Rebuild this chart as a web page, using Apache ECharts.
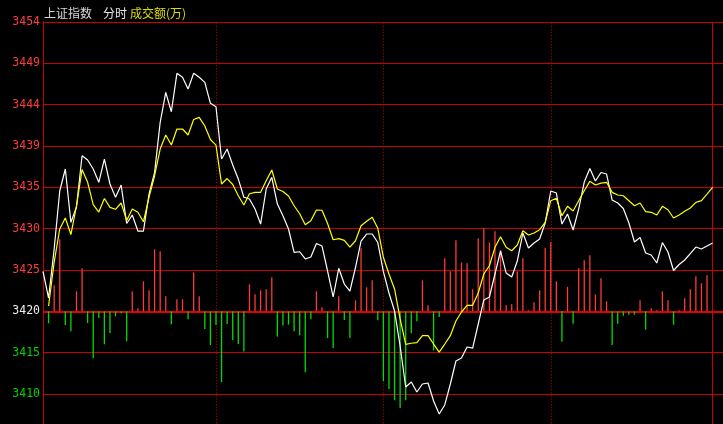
<!DOCTYPE html>
<html><head><meta charset="utf-8">
<script src="https://cdn.jsdelivr.net/npm/echarts@6/dist/echarts.min.js"></script>
<style>html,body{margin:0;padding:0;background:#000;overflow:hidden;}#c{width:723px;height:460px;}</style>
</head><body><div id="c"></div>
<script>
// minute index 0..120
const priceLine = [3424.69,3421.56,3427.31,3434.12,3436.70,3430.44,3432.24,3438.26,3437.75,3436.70,
3435.14,3437.87,3434.94,3433.38,3434.82,3430.30,3431.30,3429.42,3429.42,3433.76,
3436.31,3442.18,3445.70,3443.42,3447.93,3447.46,3446.08,3447.93,3447.46,3446.87,
3444.41,3444.01,3437.87,3439.04,3437.17,3435.52,3433.38,3433.18,3432.00,3430.24,
3434.35,3435.72,3432.59,3431.22,3429.66,3426.92,3426.99,3426.14,3426.37,3427.96,
3427.66,3424.73,3421.68,3425.05,3423.20,3422.38,3425.14,3428.25,3429.07,3429.07,
3428.07,3424.65,3422.15,3420.04,3415.93,3411.12,3411.70,3410.53,3411.47,3411.59,
3409.47,3407.95,3409.01,3411.47,3414.17,3414.52,3415.81,3415.69,3418.51,3421.33,
3421.68,3424.38,3427.08,3424.49,3424.02,3425.90,3429.19,3427.43,3428.01,3428.48,
3430.36,3434.12,3433.88,3430.24,3431.42,3429.54,3432.00,3435.17,3436.76,3435.29,
3436.29,3436.11,3433.06,3432.71,3432.06,3430.36,3428.13,3428.66,3426.84,3426.61,
3425.67,3428.07,3426.96,3424.79,3425.49,3426.02,3426.78,3427.54,3427.31,3427.66,
3428.01];

const avgLine = [null,3420.62,3425.78,3429.66,3430.95,3429.01,3432.36,3436.64,3435.14,3432.53,
3431.65,3433.24,3432.20,3431.97,3432.71,3430.65,3432.00,3431.62,3430.51,3433.38,
3435.91,3439.04,3440.69,3439.51,3441.39,3441.39,3440.69,3442.51,3442.76,3441.74,
3440.16,3439.51,3434.94,3435.58,3434.88,3433.56,3432.47,3433.80,3433.96,3433.96,
3435.32,3436.58,3434.35,3434.06,3433.53,3432.39,3431.45,3430.15,3430.63,3431.89,
3431.86,3430.30,3428.40,3428.53,3428.33,3427.54,3428.28,3430.04,3430.56,3431.03,
3429.74,3426.34,3424.38,3422.62,3419.10,3416.13,3416.25,3416.33,3417.14,3417.14,
3416.16,3415.22,3416.16,3417.14,3418.86,3419.92,3420.70,3420.70,3422.15,3424.38,
3425.35,3427.51,3428.75,3427.51,3427.11,3427.78,3429.46,3428.95,3429.19,3429.58,
3430.44,3432.98,3433.26,3431.22,3432.32,3431.77,3432.98,3434.15,3435.25,3434.82,
3435.05,3435.14,3433.96,3433.65,3433.56,3432.98,3432.39,3432.71,3431.69,3431.62,
3431.30,3432.32,3431.92,3430.95,3431.30,3431.73,3432.12,3432.79,3432.98,3433.76,
3434.55];

const volumeBars = [0,-1408,3050,8446,-1607,-2346,2346,5044,-1372,-5513,
-786,-3871,-2545,-587,-235,-3519,2346,352,3519,2463,
7273,7038,1760,-1525,1408,1408,-938,4540,1760,-2076,
-3953,-1607,-8293,-1490,-3367,-3836,-4727,3167,1994,2463,
2581,3988,-2968,-1677,-1560,-2346,-2815,-7155,-938,2346,
469,-3132,-4305,1760,-1021,-3132,1290,7390,2815,3636,
-1056,-8211,-9114,-10440,-11343,-10440,-2581,-1173,3636,704,
-4575,-669,6217,4692,8328,5748,5630,2581,8563,9736,
8094,9384,7155,704,821,4692,6217,117,1056,2463,
7449,8094,3519,-3566,2874,-1455,5044,5982,6569,1994,
3871,1173,-3953,-1455,-516,-399,-399,1290,-2158,352,
117,2346,1290,-1572,117,1525,2581,4106,3284,4223,
0];

const yTickLabels = ['3405','3410','3415','3420','3425','3430','3435','3439','3444','3449','3454'];
const yMin = 3405.45, yStep = 4.85, yMax = 3453.95;
const baseline = 3420;
const sessionMarks = [31, 61, 91];
const lastIndex = 120;
const titleParts = ['上证指数', '分时', '成交额(万)'];

const GRID_RED = '#c80000';
const pxPerMin = 5.58;
const gridW = 680;

const chart = echarts.init(document.getElementById('c'), null, {renderer:'canvas'});
const volMin = -(baseline - yMin) * 1000, volMax = (yMax - baseline) * 1000;

chart.setOption({
  backgroundColor: '#000',
  animation: false,
  graphic: [
    {type:'text', style:{text:titleParts[0], x:44, y:13, verticalAlign:'middle', fill:'#d8d8d8', font:'12px "Noto Sans CJK SC"'}},
    {type:'text', style:{text:titleParts[1], x:103, y:13, verticalAlign:'middle', fill:'#e8e8e8', font:'12px "Noto Sans CJK SC"'}},
    {type:'text', style:{text:titleParts[2], x:130, y:13, verticalAlign:'middle', fill:'#dcdc00', font:'12px "Noto Sans CJK SC"'}}
  ],
  grid: {left:43, top:22, width:gridW, height:413.3, containLabel:false},
  xAxis: {type:'value', min:0, max:gridW/pxPerMin, show:false},
  yAxis: [
    {type:'value', min:yMin, max:yMax, interval:yStep,
     axisLine:{show:true, lineStyle:{color:GRID_RED, width:1}},
     axisTick:{show:false},
     axisLabel:{margin:3, fontFamily:'DejaVu Sans Mono', fontSize:11.5,
       formatter:function(v){ return yTickLabels[Math.round((v - yMin)/yStep)] || ''; },
       color:function(v){ const t = Math.round((v - yMin)/yStep); const lv = +yTickLabels[t];
         return lv > baseline ? '#ff3c3c' : (lv < baseline ? '#00d400' : '#eeeeee'); }},
     splitLine:{show:true, lineStyle:{color:GRID_RED, width:1}}},
    {type:'value', min:volMin, max:volMax, show:false, splitLine:{show:false}}
  ],
  series: [
    {type:'bar', yAxisIndex:1, barWidth:1.3, z:2,
     data: volumeBars.map((v,i)=>[i,v]),
     itemStyle:{color:function(p){ return p.value[1] >= 0 ? '#ff3838' : '#00dc00'; }},
     markLine:{silent:true, symbol:'none', label:{show:false}, z:1,
       data: sessionMarks.map(m=>({xAxis:m, lineStyle:{type:[1,2], color:GRID_RED, width:1}}))
         .concat([{xAxis:lastIndex, lineStyle:{type:'solid', color:GRID_RED, width:1}}])}
    },
    {type:'line', z:4, showSymbol:false, symbol:'none',
     data: priceLine.map((v,i)=>[i,v]),
     lineStyle:{color:'#ffffff', width:1.2},
     markLine:{silent:true, symbol:'none', label:{show:false}, z:1,
       data:[{yAxis:baseline, lineStyle:{type:'solid', color:'#e00000', width:2}}]}
    },
    {type:'line', z:5, showSymbol:false, symbol:'none',
     data: avgLine.map((v,i)=>[i,v]).filter(d=>d[1]!==null),
     lineStyle:{color:'#ffff00', width:1.2}}
  ]
});
</script></body></html>
